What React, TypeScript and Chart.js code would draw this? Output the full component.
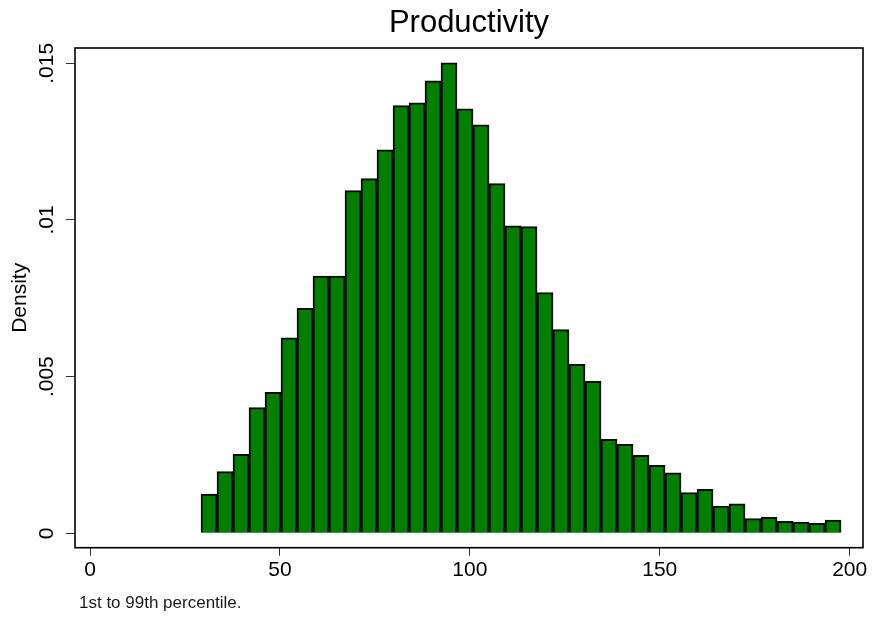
import React, { useEffect, useRef } from "react";
import { Chart, registerables } from "chart.js";

Chart.register(...registerables);

// Histogram bin midpoints (productivity) and densities
const binMids = [
  31.33, 35.54, 39.75, 43.96, 48.18, 52.39, 56.6, 60.81, 65.03, 69.24,
  73.45, 77.66, 81.88, 86.09, 90.3, 94.51, 98.73, 102.94, 107.15, 111.36,
  115.58, 119.79, 124.0, 128.21, 132.43, 136.64, 140.85, 145.06, 149.28, 153.49,
  157.7, 161.91, 166.13, 170.34, 174.55, 178.76, 182.98, 187.19, 191.4, 195.61,
];
const densities = [
  0.00125, 0.00197, 0.00252, 0.00401, 0.0045, 0.00624, 0.00718, 0.00821, 0.00821, 0.01094,
  0.01132, 0.01224, 0.01365, 0.01374, 0.01444, 0.01502, 0.01355, 0.01304, 0.01116, 0.00981,
  0.00979, 0.00768, 0.0065, 0.00539, 0.00485, 0.003, 0.00284, 0.00249, 0.00217, 0.00193,
  0.0013, 0.0014, 0.00087, 0.00094, 0.00047, 0.00051, 0.00038, 0.00036, 0.00032, 0.00042,
];
const xTicks = [0, 50, 100, 150, 200];
const yTicks = [0, 0.005, 0.01, 0.015];
const yTickLabels = ["0", ".005", ".01", ".015"];
const titleText = "Productivity";
const yTitle = "Density";
const noteText = "1st to 99th percentile.";

const FONT = "'Liberation Sans', Arial, Helvetica, sans-serif";

export default function App() {
  const ref = useRef<HTMLCanvasElement | null>(null);

  useEffect(() => {
    if (!ref.current) return;
    const framePlugin = {
      id: "frameAndNote",
      afterDatasetsDraw(chart: any) {
        const { ctx, chartArea: a } = chart;
        ctx.save();
        ctx.strokeStyle = "#000";
        ctx.lineWidth = 1.6;
        ctx.strokeRect(a.left, a.top, a.right - a.left, a.bottom - a.top);
        ctx.font = `17px ${FONT}`;
        ctx.fillStyle = "#1a1a1a";
        ctx.textBaseline = "alphabetic";
        ctx.textAlign = "left";
        ctx.fillText(noteText, a.left + 4, 608);
        ctx.restore();
      },
    };

    const chart = new Chart(ref.current, {
      type: "bar",
      data: {
        datasets: [
          {
            data: binMids.map((x, i) => ({ x, y: densities[i] })),
            backgroundColor: "#007f00",
            borderColor: "#050a05",
            borderWidth: 2,
            barPercentage: 1,
            categoryPercentage: 1,
            grouped: false,
          } as any,
        ],
      },
      options: {
        animation: false,
        responsive: true,
        maintainAspectRatio: false,
        layout: { padding: { left: 0, right: 12, top: 0, bottom: 0 } },
        plugins: {
          legend: { display: false },
          tooltip: { enabled: false },
          title: {
            display: true,
            text: titleText,
            fullSize: false,
            color: "#000",
            font: { family: FONT, size: 31, weight: "normal" as any, lineHeight: 1.2 },
            padding: { top: 5, bottom: 5.8 },
          },
        },
        scales: {
          x: {
            type: "linear",
            min: -3.95,
            max: 203.5,
            offset: false,
            afterBuildTicks: (s: any) => {
              s.ticks = xTicks.map((v) => ({ value: v }));
            },
            afterFit: (s: any) => {
              s.height = 71.3;
            },
            grid: {
              display: true,
              offset: false,
              drawOnChartArea: false,
              drawTicks: true,
              tickLength: 8,
              color: "#333",
            },
            border: { display: false },
            ticks: {
              font: { family: FONT, size: 21 },
              color: "#000",
              padding: 2,
              maxRotation: 0,
              autoSkip: false,
              callback: (v: any) => String(v),
            },
          },
          y: {
            type: "linear",
            min: -0.00046,
            max: 0.01549,
            afterBuildTicks: (s: any) => {
              s.ticks = yTicks.map((v) => ({ value: v }));
            },
            afterFit: (s: any) => {
              s.width = 75;
            },
            grid: {
              display: true,
              drawOnChartArea: false,
              drawTicks: true,
              tickLength: 9,
              color: "#333",
            },
            border: { display: false },
            ticks: {
              font: { family: FONT, size: 21 },
              color: "#000",
              minRotation: 90,
              maxRotation: 90,
              crossAlign: "center",
              padding: -2,
              autoSkip: false,
              callback: (v: any) => {
                const i = yTicks.indexOf(Number(v));
                return i >= 0 ? yTickLabels[i] : "";
              },
            },
            title: {
              display: true,
              text: yTitle,
              color: "#000",
              font: { family: FONT, size: 21, lineHeight: 1.2 },
              padding: { top: 7.4, bottom: 0 },
            },
          },
        },
      },
      plugins: [framePlugin],
    } as any);

    return () => chart.destroy();
  }, []);

  return (
    <div style={{ position: "absolute", left: 0, top: 0, width: 875, height: 619, background: "#fff" }}>
      <canvas ref={ref} />
    </div>
  );
}
